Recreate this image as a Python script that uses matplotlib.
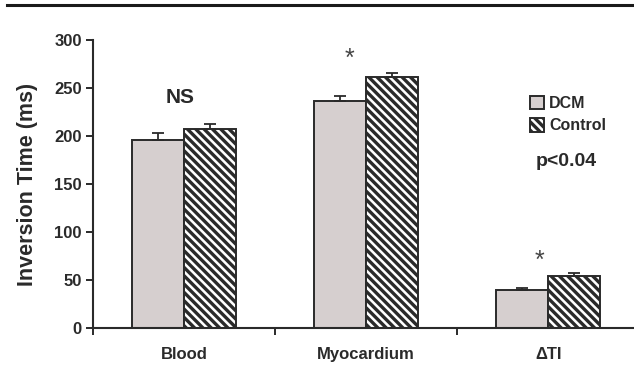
import numpy as np
import matplotlib
matplotlib.use('Agg')
import matplotlib.pyplot as plt
from matplotlib.lines import Line2D

# values
categories = ['Blood', 'Myocardium', '\u0394TI']
dcm_vals = [196, 236.5, 40]
dcm_err = [7, 5.5, 2]
ctrl_vals = [207, 261.5, 54]
ctrl_err = [5, 4, 3]
series_names = ['DCM', 'Control']
y_ticks = [0, 50, 100, 150, 200, 250, 300]

plt.rcParams['font.family'] = ['Liberation Sans', 'DejaVu Sans']
plt.rcParams['hatch.linewidth'] = 2.4
plt.rcParams['hatch.color'] = '#1a1a1a'

W, H = 634, 367
fig = plt.figure(figsize=(W / 100, H / 100), dpi=100)
ax = fig.add_axes([93 / W, 39 / H, (634 - 93) / W, (328 - 40) / H])

dark = '#2a2a2a'
x = np.arange(len(categories))
bw = 0.286

ax.bar(x - bw / 2, dcm_vals, bw, color='#d6cfcf', edgecolor=dark, linewidth=1.4,
       label=series_names[0], zorder=2)
ax.bar(x + bw / 2, ctrl_vals, bw, color='white', edgecolor=dark, linewidth=1.4,
       hatch='\\\\\\\\', label=series_names[1], zorder=2)
ax.errorbar(x - bw / 2, dcm_vals, yerr=[np.zeros(3), dcm_err], fmt='none',
            ecolor=dark, elinewidth=1.3, capsize=4, capthick=1.3, zorder=3)
ax.errorbar(x + bw / 2, ctrl_vals, yerr=[np.zeros(3), ctrl_err], fmt='none',
            ecolor=dark, elinewidth=1.3, capsize=4, capthick=1.3, zorder=3)

ax.set_xlim(-0.5, 2.47)
ax.set_ylim(0, 300)
ax.set_yticks(y_ticks)
ax.set_yticklabels([str(v) for v in y_ticks], fontsize=12, fontweight='bold', color=dark)
ax.set_xticks(x)
ax.set_xticklabels(categories, fontsize=12, fontweight='bold', color=dark)
ax.tick_params(axis='x', which='major', length=0, pad=14)
ax.set_xticks([-0.5, 0.5, 1.5], minor=True)
ax.tick_params(axis='x', which='minor', length=5, width=1.4, color=dark, direction='out')
ax.tick_params(axis='y', length=5, width=1.4, color=dark, direction='out', pad=3)

for s in ['top', 'right']:
    ax.spines[s].set_visible(False)
for s in ['left', 'bottom']:
    ax.spines[s].set_color(dark)
    ax.spines[s].set_linewidth(1.5)

ax.set_ylabel('Inversion Time (ms)', fontsize=15.5, fontweight='bold', color=dark, labelpad=12)

# annotations
ax.text(x[0] - 0.02, 240, 'NS', fontsize=15, fontweight='bold', color=dark, ha='center', va='center')
ax.text(x[1] - 0.09, 280, '*', fontsize=18, color='#444444', ha='center', va='center')
ax.text(x[2] - 0.05, 70, '*', fontsize=18, color='#444444', ha='center', va='center')
ax.text(x[2] + 0.1, 173, 'p<0.04', fontsize=14, fontweight='bold', color=dark, ha='center', va='center')

leg = ax.legend(loc='upper left', bbox_to_anchor=(522 / W, (367 - 88) / H),
                bbox_transform=fig.transFigure, frameon=False, fontsize=11.5,
                handlelength=0.9, handleheight=0.9, handletextpad=0.3, labelspacing=0.45,
                borderpad=0)
for t in leg.get_texts():
    t.set_fontweight('bold')
    t.set_color(dark)

# heavy rule across the top of the figure
fig.add_artist(Line2D([7 / W, 1.0], [1 - 5 / H, 1 - 5 / H], transform=fig.transFigure,
                      color='#1a1a1a', linewidth=2.2))

fig.savefig('out.png', dpi=100)
